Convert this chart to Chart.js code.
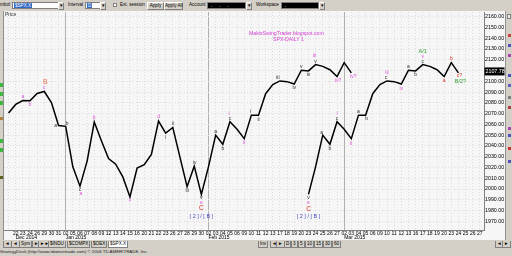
<!DOCTYPE html>
<html>
<head>
<meta charset="utf-8">
<script src="https://cdn.jsdelivr.net/npm/chart.js@4.4.0/dist/chart.umd.min.js"></script>
<style>
body{margin:0;width:512px;height:256px;overflow:hidden;background:#d4d0c8;position:relative;font-family:"Liberation Sans",Arial,sans-serif;color:#000}
.a{position:absolute;white-space:nowrap}
.t{font-size:4.6px;line-height:8px}
.box{background:#fff;border:1px solid #7f7f7f;height:7px;box-sizing:border-box}
.btn{background:#d4d0c8;border:1px solid #808080;border-top-color:#fff;border-left-color:#fff;box-sizing:border-box;height:8px;font-size:4.6px;line-height:6px;text-align:center}
.sel{background:#316ac5;color:#fff;font-size:4.6px;line-height:5px;padding:0 1px;position:absolute;left:1px;top:0}
.blk{background:#000;height:7px;box-sizing:border-box;border:1px solid #7f7f7f}
.tab{position:absolute;top:241px;height:6px;border:1px solid #808080;border-top:none;background:#d4d0c8;font-size:4.6px;line-height:6px;padding:0 1px;box-sizing:content-box}
#c{position:absolute;left:4px;top:11px;background:#f6f6f6}
</style>
</head>
<body>
<!-- barra superiore -->
<div class="a t" style="left:0;top:1px">mbol</div>
<div class="a box" style="left:12px;top:2px;width:47px"><span class="sel">$SPX.X</span></div>
<div class="a btn" style="left:58px;top:1.5px;width:6px">&#9662;</div>
<div class="a t" style="left:68px;top:1px">Interval</div>
<div class="a box" style="left:85px;top:2px;width:16px"><span class="sel">D</span></div>
<div class="a btn" style="left:100px;top:1.5px;width:6px">&#9662;</div>
<div class="a" style="left:113px;top:3px;width:4px;height:4px;background:#fff;border:1px solid #808080;box-sizing:border-box"></div>
<div class="a t" style="left:120px;top:1px">Ext. session</div>
<div class="a btn" style="left:147px;top:1.5px;width:17px">Apply</div>
<div class="a btn" style="left:164px;top:1.5px;width:19px">Apply All</div>
<div class="a t" style="left:189px;top:1px">Account</div>
<div class="a blk" style="left:207px;top:2px;width:39px;color:#fff;font-size:5px;line-height:4px">&nbsp;&nbsp;.&nbsp;&nbsp;&nbsp;&nbsp;&nbsp;.&nbsp;&nbsp;&nbsp;&nbsp;&nbsp;.</div>
<div class="a btn" style="left:246px;top:1.5px;width:6px">&#9662;</div>
<div class="a t" style="left:256px;top:1px">Workspace</div>
<div class="a blk" style="left:281px;top:2px;width:38px;color:#fff;font-size:5px;line-height:4px">&nbsp;&nbsp;.</div>
<div class="a btn" style="left:319px;top:1.5px;width:6px">&#9662;</div>

<canvas id="c" width="501" height="230"></canvas>

<!-- striscia sinistra / destra -->
<div class="a" style="left:0;top:11px;width:4px;height:229px;background:#d4d0c8;border-right:1px solid #909090;box-sizing:border-box"></div>
<div class="a" style="left:0;top:83px;width:3px;height:4px;background:#3cb83c"></div>
<div class="a" style="left:0;top:92px;width:3px;height:4px;background:#3cb83c"></div>
<div class="a" style="left:0;top:101px;width:3px;height:4px;background:#3cb83c"></div>
<div class="a" style="left:0;top:139px;width:3px;height:4px;background:#3cb83c"></div>
<div class="a" style="left:0;top:148px;width:3px;height:4px;background:#3cb83c"></div>
<div class="a" style="left:0;top:117px;width:3px;height:3px;background:#b08040"></div>
<div class="a" style="left:0;top:176px;width:3px;height:3px;background:#606020"></div>
<div class="a" style="left:505px;top:11px;width:7px;height:229px;background:#d4d0c8;border-left:1px solid #909090;box-sizing:border-box"></div>
<div class="a" style="left:507px;top:14px;width:4px;height:5px;border:1px solid #808080;box-sizing:border-box;background:#eee"></div>
<div class="a" style="left:508px;top:34px;width:3px;height:3px;background:#d04040"></div>
<div class="a" style="left:508px;top:44px;width:3px;height:3px;background:#5050c0"></div>
<div class="a" style="left:508px;top:54px;width:3px;height:3px;background:#b040b0"></div>
<div class="a" style="left:508px;top:74px;width:3px;height:3px;background:#5050c0"></div>
<div class="a" style="left:508px;top:84px;width:3px;height:3px;background:#6060c0"></div>
<div class="a" style="left:508px;top:96px;width:3px;height:3px;background:#808080"></div>
<div class="a" style="left:508px;top:106px;width:3px;height:3px;background:#b04040"></div>
<div class="a" style="left:508px;top:127px;width:3px;height:3px;background:#b040b0"></div>
<div class="a" style="left:508px;top:134px;width:3px;height:3px;background:#5050c0"></div>
<div class="a" style="left:508px;top:147px;width:3px;height:3px;background:#d03030"></div>
<div class="a" style="left:508px;top:160px;width:3px;height:3px;background:#5050c0"></div>

<!-- testi sul grafico -->
<div class="a" style="left:5px;top:11px;font-size:5px;line-height:6px;color:#303030">Price</div>
<div class="a" style="left:249px;top:30px;font-size:5.2px;line-height:6px;color:#d040d0">MakisSwingTrader.blogspot.com</div>
<div class="a" style="left:273px;top:36px;font-size:5.2px;line-height:6px;color:#d040d0">SPX-DAILY 1</div>

<!-- schede in basso -->
<div class="a" style="left:0;top:240px;width:512px;height:16px;background:#d4d0c8"></div>
<div class="tab" style="left:3px">&#9668;&#9668;</div>
<div class="tab" style="left:11px">&#9668;</div>
<div class="tab" style="left:19px">Sym</div>
<div class="tab" style="left:32px">&#9658;</div>
<div class="tab" style="left:38px">&#9658;&#9658;</div>
<div class="tab" style="left:48px">$INDU</div>
<div class="tab" style="left:67px">$COMPX</div>
<div class="tab" style="left:91px">$OEX</div>
<div class="tab" style="left:108px;background:#fff">$SPX.X</div>
<div class="tab" style="left:258px">Inv</div>
<div class="tab" style="left:270px">&#9668;</div>
<div class="tab" style="left:276px">&#9658;</div>
<div class="tab" style="left:284px">D</div>
<div class="tab" style="left:291px">3</div>
<div class="tab" style="left:298px">5</div>
<div class="tab" style="left:305px">10</div>
<div class="tab" style="left:314px">15</div>
<div class="tab" style="left:323px">30</div>
<div class="tab" style="left:332px">60</div>
<div class="tab" style="left:495px">&#9668;</div>
<div class="tab" style="left:502px">&#9658;</div>
<div class="a" style="left:0;top:249px;font-size:4.4px;line-height:6px;color:#202020">StrategyDesk (http://www.tdameritrade.com) &copy; 2006 TD AMERITRADE, Inc.</div>

<script>
// giorni di borsa (mm-dd) dal 19 dic 2014 al 27 mar 2015
const days = ['12-19','12-22','12-23','12-24','12-26','12-29','12-30','12-31',
    '01-02','01-05','01-06','01-07','01-08','01-09','01-12','01-13','01-14','01-15','01-16',
    '01-20','01-21','01-22','01-23','01-26','01-27','01-28','01-29','01-30',
    '02-02','02-03','02-04','02-05','02-06','02-09','02-10','02-11','02-12','02-13',
    '02-17','02-18','02-19','02-20','02-23','02-24','02-25','02-26','02-27',
    '03-02','03-03','03-04','03-05','03-06','03-09','03-10','03-11','03-12','03-13',
    '03-16','03-17','03-18','03-19','03-20','03-23','03-24','03-25','03-26','03-27'];
const dayLabels = days.map(d => d.slice(3));

const monthStarts = ['12-22', '01-02', '02-02', '03-02'];
const monthLabels = ['Dec 2014', 'Jan 2015', 'Feb 2015', 'Mar 2015'];

// chiusure SPX (19 dic - 3 mar)
const closes = [2070.65, 2078.54, 2082.17, 2081.88, 2088.77, 2090.57, 2080.35, 2058.90,
    2058.20, 2020.58, 2002.61, 2025.90, 2062.14, 2044.81, 2028.26, 2023.03, 2011.27, 1992.67, 2019.42,
    2022.55, 2032.12, 2063.15, 2051.82, 2057.09, 2029.55, 2002.16, 2021.25, 1994.99,
    2020.85, 2050.03, 2041.51, 2062.52, 2055.47, 2046.74, 2068.59, 2068.53, 2088.48, 2096.99,
    2100.34, 2099.68, 2097.45, 2110.30, 2109.66, 2115.48, 2113.86, 2110.74, 2104.50,
    2117.39, 2107.78];

// proiezione (23 feb - 24 mar)
const projStart = '02-23';
const projection = [1994.99, 2020.85, 2050.03, 2041.51, 2062.52, 2055.47, 2046.74, 2068.59,
    2068.53, 2088.48, 2096.99, 2100.34, 2099.68, 2097.45, 2110.30, 2109.66, 2115.48, 2113.86,
    2110.74, 2104.50, 2117.39, 2107.78];

const yTicks = [1970, 1980, 1990, 2000, 2010, 2020, 2030, 2040, 2050, 2060, 2070, 2080,
    2090, 2100, 2110, 2120, 2130, 2140, 2150, 2160];

const PINK = '#e050d8', DARK = '#303030', RED = '#e03020', SALMON = '#e87050',
      GREEN = '#30a030', BLUE = '#4848c8';

// etichette delle onde: serie, giorno, dx, dy, testo, colore, dimensione
const waveLabels = [
    ['spx', '12-23', 0, -4, 'a', PINK],
    ['spx', '12-24', 0, 4, 'b', PINK],
    ['spx', '12-29', 0, -4, 'c', PINK],
    ['spx', '12-29', 1, -9.5, 'B', SALMON, 7],
    ['spx', '12-31', -3, 0, 'a', DARK],
    ['spx', '01-02', 1.5, -3, 'b', DARK],
    ['spx', '01-06', 0, 3, 'c', DARK],
    ['spx', '01-06', 1, 7.5, 'a', PINK],
    ['spx', '01-08', 0, -4, 'b', PINK],
    ['spx', '01-15', 0, 3, 'c', PINK],
    ['spx', '01-22', 0, -4, 'd', PINK],
    ['spx', '01-23', 0, 4, 'i', DARK],
    ['spx', '01-26', 0, -3.5, 'ii', DARK],
    ['spx', '01-28', 0, 4, 'iii', DARK],
    ['spx', '01-29', 0.5, -3.5, 'iv', DARK],
    ['spx', '01-30', 0, 3, 'v', DARK],
    ['spx', '01-30', 0, 8.5, 'e', PINK],
    ['spx', '01-30', 0, 14, 'C', RED, 6.5],
    ['spx', '01-30', 0, 22, '[ 2 ] / [ B ]', BLUE, 5.5],
    ['spx', '02-03', 0, -3.5, 'a', DARK],
    ['spx', '02-04', 0, 4, 'b', DARK],
    ['spx', '02-05', 0, -3.5, 'c', DARK],
    ['spx', '02-05', -1, -8.5, 'i', PINK],
    ['spx', '02-09', 0, 4, 'ii', PINK],
    ['spx', '02-10', -1, -3.5, 'i', DARK],
    ['spx', '02-11', 0, 4, 'ii', DARK],
    ['spx', '02-17', -2, -3.5, 'iii', DARK],
    ['spx', '02-19', 0, 4, 'iv', DARK],
    ['spx', '02-20', 0, -3.5, 'v', DARK],
    ['spx', '02-23', 0, 3.5, 'iv', DARK],
    ['spx', '02-24', 0, -3.5, 'v', DARK],
    ['spx', '02-24', -1, -9, 'iii', PINK],
    ['spx', '02-27', 1, 4, 'iv?', PINK],
    ['spx', '03-03', 2, 4, 'iv?', PINK],
    ['proj', '02-23', 0, 3, 'v', DARK],
    ['proj', '02-23', 0, 8, 'e', PINK],
    ['proj', '02-23', 0, 14.5, 'C', RED, 6.5],
    ['proj', '02-23', 0, 22, '[ 2 ] / [ B ]', BLUE, 5.5],
    ['proj', '02-25', -1, -3, 'a', DARK],
    ['proj', '02-26', 0, 4, 'b', DARK],
    ['proj', '02-27', 0, -3.5, 'c', DARK],
    ['proj', '02-27', 0, -8.5, 'i', PINK],
    ['proj', '03-03', 0, 4.5, 'ii', PINK],
    ['proj', '03-04', 0, -3.5, 'a', DARK],
    ['proj', '03-05', 1, 3.5, 'b', DARK],
    ['proj', '03-10', -1, -3.5, 'c', DARK],
    ['proj', '03-10', 0, -8.5, 'iii', PINK],
    ['proj', '03-12', 0, 5, 'iv', PINK],
    ['proj', '03-13', 0, -3.5, 'a', DARK],
    ['proj', '03-16', 0, 4, 'b', DARK],
    ['proj', '03-17', 0, -3.5, 'c', DARK],
    ['proj', '03-17', 0, -8, 'v', PINK],
    ['proj', '03-17', 0, -13, 'A/1', GREEN, 5.5],
    ['proj', '03-20', 0, 4, 'a', RED],
    ['proj', '03-23', 0, -4, 'b', RED],
    ['proj', '03-24', 1, 3, 'c?', RED],
    ['proj', '03-24', 2, 9, 'B/2?', GREEN, 5.5]
];

const series = {
    spx: {start: 0, values: closes},
    proj: {start: days.indexOf(projStart), values: projection}
};

const FONT = '"Liberation Sans", Arial, sans-serif';
const xMin = -0.64, xMax = 66.58;

// testi delle onde e riquadro dell'ultimo prezzo
const wavePlugin = {
    id: 'waveText',
    afterDatasetsDraw(chart) {
        const {ctx, scales: {x, y}} = chart;
        ctx.save();
        ctx.textAlign = 'center';
        ctx.textBaseline = 'middle';
        waveLabels.forEach(([s, d, dx, dy, text, color, size]) => {
            const ser = series[s];
            const i = days.indexOf(d);
            const v = ser.values[i - ser.start];
            ctx.font = (size || 5) + 'px ' + FONT;
            ctx.fillStyle = color;
            ctx.fillText(text, x.getPixelForValue(i) + dx, y.getPixelForValue(v) + dy);
        });
        ctx.restore();
    },
    afterDraw(chart) {
        const {ctx, scales: {y}} = chart;
        const last = closes[closes.length - 1];
        const py = y.getPixelForValue(last) - 1.5;
        ctx.save();
        ctx.fillStyle = '#000';
        ctx.fillRect(y.left + 0.5, py - 4, 20, 8);
        ctx.fillStyle = '#fff';
        ctx.font = '5.3px ' + FONT;
        ctx.textBaseline = 'middle';
        ctx.fillText(last.toFixed(2), y.left + 1.5, py);
        ctx.restore();
    }
};

const noPad = s => { s.paddingLeft = 0; s.paddingRight = 0; s.paddingTop = 0; s.paddingBottom = 0; };

new Chart(document.getElementById('c').getContext('2d'), {
    type: 'line',
    data: {
        datasets: [{
            data: closes.map((v, i) => ({x: i, y: v})),
            borderColor: '#000', borderWidth: 1.5, pointRadius: 0, tension: 0
        }, {
            data: projection.map((v, k) => ({x: series.proj.start + k, y: v})),
            borderColor: '#000', borderWidth: 1.5, pointRadius: 0, tension: 0
        }]
    },
    options: {
        responsive: false,
        animation: false,
        layout: {padding: {top: 1, left: 0, right: 0, bottom: 0}},
        plugins: {legend: {display: false}, tooltip: {enabled: false}},
        scales: {
            x: {
                type: 'linear', position: 'bottom', weight: 0, min: xMin, max: xMax,
                afterBuildTicks: s => { s.ticks = days.map((d, i) => ({value: i})); },
                afterFit: s => { s.height = 5; noPad(s); },
                ticks: {
                    autoSkip: false, maxRotation: 0, minRotation: 0, padding: 0.5,
                    color: '#000', font: {size: 5, family: FONT},
                    callback: (v, i) => i === 0 ? '' : dayLabels[i]
                },
                grid: {color: '#dddddd', drawTicks: false},
                border: {display: true, color: '#808080', dash: [1, 2]}
            },
            m: {
                type: 'linear', position: 'bottom', weight: 1, min: xMin, max: xMax,
                afterBuildTicks: s => { s.ticks = monthStarts.map(d => ({value: days.indexOf(d)})); },
                afterFit: s => { s.height = 6; noPad(s); },
                ticks: {
                    autoSkip: false, maxRotation: 0, minRotation: 0, padding: 0, align: 'start',
                    color: '#000', font: {size: 5, family: FONT},
                    callback: (v, i) => monthLabels[i]
                },
                grid: {color: c => c.index === 0 ? 'rgba(0,0,0,0)' : '#b0b0b0', drawTicks: false},
                border: {display: false}
            },
            y: {
                position: 'right', min: 1961.95, max: 2164.36,
                afterBuildTicks: s => { s.ticks = yTicks.map(v => ({value: v})); },
                afterFit: s => { s.width = 21; noPad(s); },
                ticks: {
                    padding: 1, color: '#000', font: {size: 5.3, family: FONT},
                    callback: v => v.toFixed(2)
                },
                grid: {color: '#dddddd', drawTicks: false},
                border: {display: true, color: '#808080', dash: [1, 2]}
            }
        }
    },
    plugins: [wavePlugin]
});
</script>
</body>
</html>
